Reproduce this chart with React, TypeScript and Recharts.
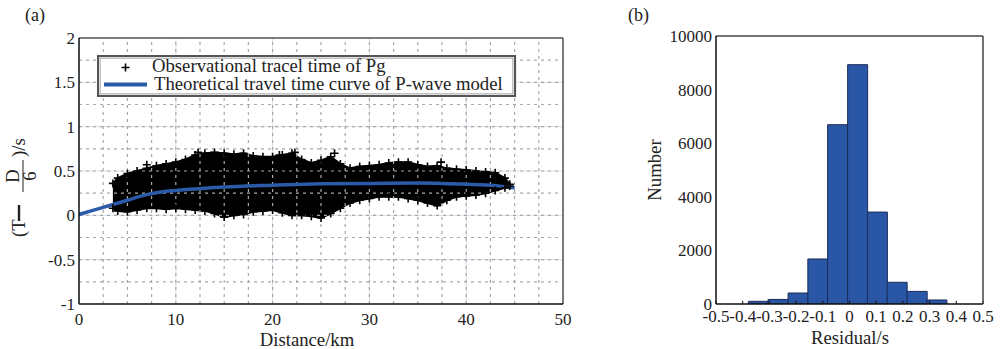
import React from "react";
import {
  Area,
  Bar,
  CartesianGrid,
  ComposedChart,
  Legend,
  Line,
  ReferenceLine,
  Scatter,
  XAxis,
  YAxis,
} from "recharts";

const SERIF = '"Liberation Serif", "Times New Roman", serif';
const BLUE = "#2b5aa8";
const TEXT = "#222";
const LABEL_SIZE = 18.7;

// (a) observed Pg times: the point cloud read as its lower / upper envelope
const obsDist = [
  3.5, 4, 5, 6, 7, 8, 9, 10, 11, 12, 13, 14, 15, 16, 17, 18, 19, 20, 21, 22, 23,
  24, 25, 26, 27, 28, 29, 30, 31, 32, 33, 34, 35, 36, 37, 38, 39, 40, 41, 42,
  43, 44, 44.5,
];
const obsLow = [
  0.08, 0.05, 0.04, 0.06, 0.08, 0.08, 0.07, 0.08, 0.07, 0.06, 0.05, 0.02, -0.02,
  0.0, 0.01, 0.04, 0.05, 0.06, 0.03, 0.0, 0.0, -0.01, -0.03, 0.02, 0.08, 0.14,
  0.17, 0.19, 0.21, 0.21, 0.21, 0.19, 0.17, 0.14, 0.11, 0.17, 0.21, 0.22, 0.23,
  0.25, 0.28, 0.31, 0.33,
];
const obsHigh = [
  0.36, 0.42, 0.47, 0.5, 0.53, 0.56, 0.58, 0.6, 0.63, 0.68, 0.7, 0.71, 0.7,
  0.69, 0.7, 0.67, 0.66, 0.66, 0.68, 0.7, 0.63, 0.59, 0.62, 0.66, 0.58, 0.53,
  0.55, 0.56, 0.57, 0.59, 0.6, 0.6, 0.57, 0.55, 0.56, 0.53, 0.52, 0.51, 0.5,
  0.49, 0.48, 0.42, 0.35,
];
// isolated picks standing out of the cloud
const outlierDist = [7.0, 12.3, 20.7, 22.3, 26.4, 37.4];
const outlierVal = [0.57, 0.71, 0.68, 0.71, 0.7, 0.6];

// theoretical travel time curve of the P-wave model
const curveDist = [0, 2.5, 5, 6.5, 7.5, 8.5, 10, 15, 20, 25, 30, 35, 40, 43, 45];
const curveVal = [
  0.01, 0.09, 0.17, 0.22, 0.245, 0.263, 0.28, 0.32, 0.34, 0.355, 0.36, 0.365,
  0.35, 0.335, 0.31,
];

const distTicks = [0, 10, 20, 30, 40, 50];
const timeTicks = [-1, -0.5, 0, 0.5, 1, 1.5, 2];
const minorDist = [
  2.5, 5, 7.5, 10, 12.5, 15, 17.5, 20, 22.5, 25, 27.5, 30, 32.5, 35, 37.5, 40,
  42.5, 45, 47.5,
];
const minorTime = [
  -0.75, -0.5, -0.25, 0, 0.25, 0.5, 0.75, 1, 1.25, 1.5, 1.75,
];

// (b) residual histogram
const binCenters = [
  -0.342, -0.268, -0.193, -0.119, -0.045, 0.03, 0.104, 0.178, 0.253, 0.327,
];
const binCounts = [100, 170, 410, 1680, 6690, 8930, 3430, 810, 470, 150];
const residualTicks = [-0.5, -0.4, -0.3, -0.2, -0.1, 0, 0.1, 0.2, 0.3, 0.4, 0.5];
const countTicks = [0, 2000, 4000, 6000, 8000, 10000];

const cloud = obsDist.map((d, i) => ({ d, range: [obsLow[i], obsHigh[i]] }));
const cloudMarks = [
  ...obsDist.map((d, i) => ({ d, v: obsHigh[i] })),
  ...obsDist.map((d, i) => ({ d, v: obsLow[i] })),
  ...outlierDist.map((d, i) => ({ d, v: outlierVal[i] })),
];
const curve = curveDist.map((d, i) => ({ d, t: curveVal[i] }));
const hist = binCenters.map((c, i) => ({ c, n: binCounts[i] }));

const tickStyle = { fontSize: 17, fill: TEXT, fontFamily: SERIF };

function PlusMark(props: any) {
  const { cx, cy } = props;
  if (cx == null || cy == null) return null;
  return (
    <path
      d={`M${cx - 4},${cy}H${cx + 4}M${cx},${cy - 4}V${cy + 4}`}
      stroke="#000"
      strokeWidth={1.6}
    />
  );
}

function TravelLegend() {
  return (
    <svg width={420} height={42} style={{ display: "block" }}>
      <rect x={1} y={1} width={417} height={40} fill="#fff" stroke="#555" strokeWidth={2.2} />
      <rect x={3.2} y={3.2} width={412.6} height={35.6} fill="none" stroke="#999" strokeWidth={0.8} />
      <path d="M24.5,12.5H32.5M28.5,8.5V16.5" stroke="#000" strokeWidth={1.6} />
      <text x={55} y={17} fontSize={LABEL_SIZE} fontFamily={SERIF} fill={TEXT}>
        Observational tracel time of Pg
      </text>
      <line x1={7} x2={50} y1={29.5} y2={29.5} stroke={BLUE} strokeWidth={4} />
      <text x={57} y={35} fontSize={LABEL_SIZE} fontFamily={SERIF} fill={TEXT}>
        Theoretical travel time curve of P-wave model
      </text>
    </svg>
  );
}

function TimeLabel() {
  // (T − D/6)/s, written along the axis
  return (
    <g transform="rotate(-90)" fontFamily={SERIF} fill={TEXT} fontSize={LABEL_SIZE}>
      <text x={-237} y={25}>(T</text>
      <line x1={-221} x2={-205} y1={19} y2={19} stroke={TEXT} strokeWidth={2.4} />
      <text x={-176} y={19} textAnchor="middle">D</text>
      <line x1={-192} x2={-160} y1={23} y2={23} stroke={TEXT} strokeWidth={1} />
      <text x={-176} y={36} textAnchor="middle">6</text>
      <text x={-157} y={25}>)/s</text>
    </g>
  );
}

function TravelTimePanel() {
  return (
    <ComposedChart width={600} height={349} margin={{ top: 38, right: 37, bottom: 0, left: 0 }}>
      <CartesianGrid stroke="#dde5ee" strokeWidth={1.2} />
      <XAxis
        type="number"
        dataKey="d"
        domain={[0, 50]}
        ticks={distTicks}
        interval={0}
        height={45}
        tickLine={false}
        tickSize={5}
        tickMargin={4}
        tick={tickStyle}
        axisLine={{ stroke: "#111", strokeWidth: 1.5 }}
        allowDataOverflow
        label={{
          content: () => (
            <text x={307} y={346} textAnchor="middle" fontSize={LABEL_SIZE} fontFamily={SERIF} fill={TEXT}>
              Distance/km
            </text>
          ),
        }}
      />
      <YAxis
        type="number"
        domain={[-1, 2]}
        ticks={timeTicks}
        interval={0}
        width={79}
        tickLine={false}
        tickSize={2}
        tickMargin={2}
        tick={tickStyle}
        axisLine={{ stroke: "#111", strokeWidth: 1.5 }}
        allowDataOverflow
        label={{ content: () => <TimeLabel /> }}
      />
      {minorDist.map((x) => (
        <ReferenceLine key={`vx${x}`} x={x} stroke="#a8a8a8" strokeWidth={1.2} strokeDasharray="3 4" />
      ))}
      {minorTime.map((y) => (
        <ReferenceLine key={`hy${y}`} y={y} stroke="#a8a8a8" strokeWidth={1.2} strokeDasharray="3 4" />
      ))}
      <ReferenceLine y={2} stroke="#555" strokeWidth={1.5} />
      <ReferenceLine x={50} stroke="#555" strokeWidth={1.5} />
      <Area
        data={cloud}
        dataKey="range"
        type="linear"
        fill="#000"
        fillOpacity={1}
        stroke="#000"
        strokeWidth={2}
        isAnimationActive={false}
        legendType="none"
      />
      <Scatter data={cloudMarks} dataKey="v" shape={<PlusMark />} isAnimationActive={false} legendType="none" />
      <Line
        data={curve}
        dataKey="t"
        type="monotone"
        stroke={BLUE}
        strokeWidth={3.5}
        dot={false}
        activeDot={false}
        isAnimationActive={false}
      />
      <Legend
        layout="horizontal"
        verticalAlign="middle"
        align="center"
        wrapperStyle={{ position: "absolute", left: 97, top: 55, width: 420, height: 42 }}
        content={() => <TravelLegend />}
      />
    </ComposedChart>
  );
}

function ResidualPanel() {
  return (
    <ComposedChart
      width={402}
      height={349}
      data={hist}
      barCategoryGap={0}
      barGap={0}
      margin={{ top: 36, right: 19, bottom: 0, left: 0 }}
    >
      <XAxis
        type="number"
        dataKey="c"
        domain={[-0.5, 0.5]}
        ticks={residualTicks}
        interval={0}
        height={45}
        tickLine={false}
        tickSize={3}
        tickMargin={3}
        tick={tickStyle}
        axisLine={{ stroke: "#111", strokeWidth: 1.5 }}
        allowDataOverflow
        label={{
          content: () => (
            <text x={250} y={344} textAnchor="middle" fontSize={LABEL_SIZE} fontFamily={SERIF} fill={TEXT}>
              Residual/s
            </text>
          ),
        }}
      />
      <YAxis
        type="number"
        domain={[0, 10000]}
        ticks={countTicks}
        interval={0}
        width={116}
        tickLine={false}
        tickSize={2}
        tickMargin={2}
        tick={tickStyle}
        axisLine={{ stroke: "#111", strokeWidth: 1.5 }}
        allowDataOverflow
        label={{
          content: () => (
            <text
              transform="translate(61,170) rotate(-90)"
              textAnchor="middle"
              fontSize={LABEL_SIZE}
              fontFamily={SERIF}
              fill={TEXT}
            >
              Number
            </text>
          ),
        }}
      />
      {residualTicks.map((t) => (
        <ReferenceLine
          key={`tk${t}`}
          segment={[
            { x: t, y: 0 },
            { x: t, y: 120 },
          ]}
          stroke="#111"
          strokeWidth={1}
        />
      ))}
      <ReferenceLine y={10000} stroke="#444" strokeWidth={1.5} />
      <ReferenceLine x={0.5} stroke="#444" strokeWidth={1.5} />
      <Bar dataKey="n" fill="#2a56a6" stroke="#1b2c5a" strokeWidth={1} isAnimationActive={false} />
    </ComposedChart>
  );
}

export default function App() {
  return (
    <div
      style={{
        position: "absolute",
        left: 0,
        top: 0,
        width: 1002,
        height: 349,
        background: "#fff",
        fontFamily: SERIF,
        overflow: "hidden",
      }}
    >
      <div style={{ position: "absolute", left: 25, top: 5, fontSize: 18, color: TEXT }}>(a)</div>
      <div style={{ position: "absolute", left: 628, top: 5, fontSize: 18, color: TEXT }}>(b)</div>
      <div style={{ position: "absolute", left: 0, top: 0 }}>
        <TravelTimePanel />
      </div>
      <div style={{ position: "absolute", left: 600, top: 0 }}>
        <ResidualPanel />
      </div>
    </div>
  );
}
